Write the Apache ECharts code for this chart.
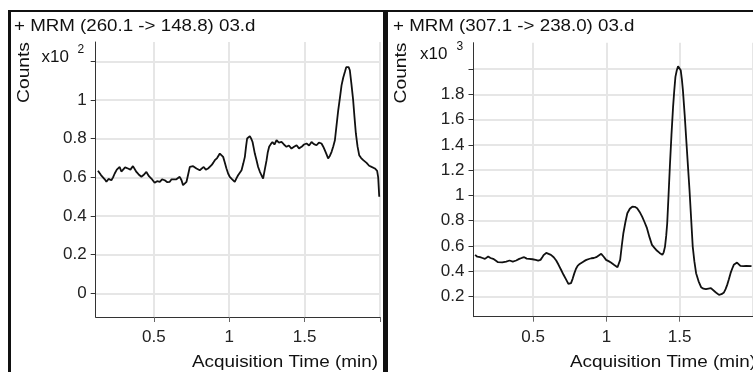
<!DOCTYPE html>
<html>
<head>
<meta charset="utf-8">
<script src="https://cdn.jsdelivr.net/npm/echarts@6/dist/echarts.min.js"></script>
<style>
html,body{margin:0;padding:0;background:#fff;}
#c{width:753px;height:372px;}
</style>
</head>
<body>
<div id="c"></div>
<script>
// ---- Data ----
const leftTitle = '+ MRM (260.1 -> 148.8) 03.d';
const rightTitle = '+ MRM (307.1 -> 238.0) 03.d';
const leftTime = [0.130,0.140,0.150,0.163,0.175,0.186,0.200,0.219,0.230,0.241,0.255,0.274,0.285,0.296,0.310,0.329,0.345,0.362,0.372,0.385,0.400,0.418,0.432,0.451,0.468,0.484,0.495,0.506,0.522,0.540,0.555,0.573,0.590,0.606,0.618,0.628,0.650,0.672,0.684,0.694,0.705,0.717,0.728,0.739,0.750,0.761,0.772,0.783,0.795,0.805,0.818,0.831,0.845,0.860,0.872,0.883,0.894,0.905,0.920,0.938,0.950,0.960,0.970,0.982,0.993,1.004,1.020,1.037,1.048,1.059,1.070,1.082,1.093,1.104,1.112,1.119,1.128,1.137,1.146,1.155,1.162,1.170,1.181,1.192,1.203,1.214,1.225,1.236,1.248,1.256,1.265,1.276,1.287,1.300,1.314,1.330,1.347,1.363,1.380,1.396,1.413,1.430,1.447,1.463,1.480,1.496,1.513,1.530,1.546,1.562,1.579,1.595,1.612,1.623,1.634,1.645,1.656,1.668,1.679,1.690,1.701,1.712,1.723,1.734,1.745,1.756,1.767,1.776,1.785,1.792,1.800,1.811,1.822,1.831,1.840,1.851,1.862,1.875,1.889,1.900,1.911,1.928,1.944,1.955,1.966,1.974,1.981,1.988,1.995];
const leftCounts = [0.634,0.628,0.612,0.620,0.590,0.577,0.592,0.585,0.600,0.620,0.640,0.654,0.630,0.637,0.652,0.646,0.640,0.658,0.648,0.628,0.615,0.603,0.612,0.628,0.606,0.594,0.585,0.572,0.580,0.577,0.590,0.585,0.575,0.577,0.590,0.594,0.590,0.603,0.585,0.560,0.565,0.577,0.615,0.654,0.645,0.658,0.650,0.646,0.652,0.637,0.645,0.654,0.640,0.646,0.655,0.663,0.675,0.689,0.700,0.723,0.718,0.706,0.680,0.646,0.620,0.603,0.590,0.577,0.595,0.611,0.620,0.637,0.670,0.706,0.760,0.801,0.808,0.813,0.800,0.783,0.755,0.723,0.690,0.654,0.630,0.611,0.594,0.640,0.689,0.730,0.758,0.772,0.783,0.770,0.792,0.780,0.783,0.770,0.758,0.765,0.749,0.758,0.766,0.750,0.758,0.770,0.775,0.765,0.783,0.772,0.766,0.780,0.775,0.760,0.741,0.720,0.698,0.712,0.732,0.760,0.792,0.870,0.947,1.010,1.076,1.115,1.145,1.170,1.180,1.170,1.154,1.080,0.999,0.910,0.827,0.760,0.715,0.700,0.689,0.682,0.675,0.660,0.654,0.648,0.646,0.640,0.634,0.600,0.500];
const rightTime = [0.105,0.120,0.139,0.155,0.172,0.185,0.194,0.210,0.228,0.245,0.261,0.290,0.317,0.340,0.362,0.385,0.406,0.423,0.440,0.457,0.474,0.496,0.518,0.535,0.551,0.563,0.574,0.590,0.603,0.622,0.641,0.658,0.674,0.691,0.708,0.725,0.741,0.750,0.759,0.770,0.782,0.793,0.804,0.818,0.831,0.848,0.864,0.881,0.898,0.915,0.931,0.948,0.965,0.982,0.998,1.015,1.031,1.054,1.076,1.085,1.094,1.105,1.116,1.130,1.143,1.160,1.177,1.194,1.210,1.227,1.244,1.260,1.277,1.294,1.311,1.328,1.344,1.363,1.382,1.391,1.400,1.408,1.415,1.424,1.433,1.444,1.455,1.463,1.471,1.480,1.489,1.498,1.507,1.515,1.522,1.534,1.545,1.556,1.567,1.578,1.589,1.600,1.612,1.629,1.646,1.662,1.679,1.696,1.713,1.726,1.739,1.754,1.768,1.785,1.802,1.813,1.824,1.835,1.847,1.858,1.869,1.880,1.891,1.902,1.914,1.934,1.954,1.990];
const rightCounts = [0.530,0.515,0.511,0.505,0.498,0.510,0.516,0.505,0.498,0.485,0.472,0.470,0.477,0.485,0.477,0.485,0.498,0.505,0.511,0.500,0.498,0.495,0.490,0.485,0.490,0.510,0.530,0.545,0.548,0.530,0.511,0.485,0.451,0.412,0.372,0.335,0.300,0.295,0.306,0.340,0.385,0.420,0.443,0.458,0.469,0.480,0.490,0.497,0.503,0.505,0.511,0.525,0.538,0.515,0.490,0.480,0.469,0.450,0.432,0.445,0.490,0.600,0.701,0.790,0.859,0.895,0.911,0.910,0.899,0.870,0.832,0.790,0.741,0.670,0.609,0.585,0.564,0.545,0.530,0.550,0.595,0.680,0.780,1.000,1.228,1.480,1.702,1.830,1.939,1.990,2.024,2.015,1.992,1.920,1.834,1.640,1.439,1.240,1.043,0.820,0.595,0.480,0.385,0.320,0.274,0.262,0.258,0.262,0.266,0.252,0.240,0.225,0.213,0.218,0.232,0.258,0.292,0.335,0.385,0.420,0.451,0.462,0.469,0.458,0.443,0.440,0.443,0.440];
const xTicks = [0.5, 1, 1.5, 2];
const xLabels = [0.5, 1, 1.5];
const leftYTicks = [0, 0.2, 0.4, 0.6, 0.8, 1, 1.2];
const leftYLabels = [0, 0.2, 0.4, 0.6, 0.8, 1];
const rightYTicks = [0.2, 0.4, 0.6, 0.8, 1, 1.2, 1.4, 1.6, 1.8, 2];
const rightYLabels = [0.2, 0.4, 0.6, 0.8, 1, 1.2, 1.4, 1.6, 1.8];
const xName = 'Acquisition Time (min)';
const yName = 'Counts';

const FONT = '"Liberation Sans", Arial, sans-serif';
const zip = (a, b) => a.map((v, i) => [v, b[i]]);
const fmt = v => String(Math.round(v * 10) / 10);

function xAxis(idx, min, max) {
  return {
    type: 'value', gridIndex: idx, min: min, max: max,
    axisLine: { show: true, onZero: false, lineStyle: { color: '#333', width: 1 } },
    axisTick: { show: true, length: 5, customValues: xTicks, lineStyle: { color: '#666' } },
    axisLabel: { customValues: xLabels, formatter: fmt, margin: 12, color: '#222', fontSize: 17, fontFamily: FONT },
    splitLine: { show: true, lineStyle: { color: '#e6e6e6', width: 2 } }
  };
}
function yAxis(idx, min, max, ticks, labels) {
  return {
    type: 'value', gridIndex: idx, min: min, max: max,
    axisLine: { show: true, onZero: false, lineStyle: { color: '#333', width: 1 } },
    axisTick: { show: true, length: 5, customValues: ticks, lineStyle: { color: '#333' } },
    axisLabel: { customValues: labels, formatter: fmt, margin: 9, color: '#222', fontSize: 17, fontFamily: FONT },
    splitLine: { show: true, lineStyle: { color: '#e6e6e6', width: 2 } }
  };
}

const chart = echarts.init(document.getElementById('c'), null, { renderer: 'canvas' });
const txt = (x, y, text, size, extra) => Object.assign({
  type: 'text', x: x, y: y, silent: true, z: 100,
  style: Object.assign({ text: text, fontSize: size, fontFamily: FONT, fill: '#111', textVerticalAlign: 'middle' }, extra && extra.style || {})
}, extra && extra.el || {});

chart.setOption({
  animation: false,
  backgroundColor: '#fff',
  grid: [
    { left: 95.7, right: 373, top: 42, bottom: 55 },
    { left: 473.5, right: -6.6, top: 42.7, bottom: 55.3 }
  ],
  xAxis: [xAxis(0, 0.115, 2.0), xAxis(1, 0.094, 2.0)],
  yAxis: [yAxis(0, -0.122, 1.30, leftYTicks, leftYLabels), yAxis(1, 0.04, 2.21, rightYTicks, rightYLabels)],
  series: [
    { type: 'line', xAxisIndex: 0, yAxisIndex: 0, data: zip(leftTime, leftCounts), showSymbol: false, symbol: 'none', clip: true,
      lineStyle: { color: '#111', width: 1.8 } },
    { type: 'line', xAxisIndex: 1, yAxisIndex: 1, data: zip(rightTime, rightCounts), showSymbol: false, symbol: 'none', clip: true,
      lineStyle: { color: '#111', width: 1.8 } }
  ],
  graphic: [
    { type: 'rect', shape: { x: 8, y: 10, width: 745, height: 2 }, style: { fill: '#111' }, z: 100, silent: true },
    { type: 'rect', shape: { x: 8, y: 10, width: 3, height: 362 }, style: { fill: '#111' }, z: 100, silent: true },
    { type: 'rect', shape: { x: 383, y: 10, width: 5, height: 362 }, style: { fill: '#111' }, z: 100, silent: true },
    txt(14, 27, leftTitle, 16.3, { el: { scaleX: 1.15 } }),
    txt(393, 27, rightTitle, 16.3, { el: { scaleX: 1.15 } }),
    txt(25, 72.5, yName, 16, { el: { rotation: Math.PI / 2, scaleX: 1.2 }, style: { textAlign: 'center' } }),
    txt(401.5, 73, yName, 16, { el: { rotation: Math.PI / 2, scaleX: 1.2 }, style: { textAlign: 'center' } }),
    txt(41.5, 58, 'x10', 16, { el: { scaleX: 1.06 } }),
    txt(77.5, 50, '2', 12),
    txt(420, 55, 'x10', 16, { el: { scaleX: 1.06 } }),
    txt(456.5, 46.5, '3', 12),
    txt(378, 362.5, xName, 16, { el: { scaleX: 1.18 }, style: { textAlign: 'right' } }),
    txt(756, 362.5, xName, 16, { el: { scaleX: 1.18 }, style: { textAlign: 'right' } })
  ]
});
</script>
</body>
</html>
